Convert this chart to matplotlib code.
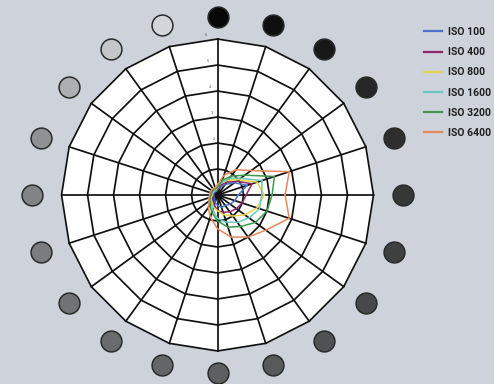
import numpy as np
import matplotlib.pyplot as plt

# 20 grey patches, one per spoke, listed counter-clockwise starting at the top
angles_deg = [90, 108, 126, 144, 162, 180, 198, 216, 234, 252,
              270, 288, 306, 324, 342, 0, 18, 36, 54, 72]
patch_grey = ['#080808', '#d3d7dd', '#c4c6c9', '#adafb2', '#8e9093',
              '#818386', '#7a7c7f', '#707275', '#6a6b6e', '#646567',
              '#5e5f60', '#58595a', '#505152', '#474849', '#3f4040',
              '#363737', '#2e2e2e', '#262626', '#181818', '#0f0f0f']

series = ['ISO 100', 'ISO 400', 'ISO 800', 'ISO 1600', 'ISO 3200', 'ISO 6400']
colors = ['#4a74c8', '#8a2a68', '#e6d24c', '#6cc8c0', '#3e9a4c', '#e8885a']

# noise per patch, same order as angles_deg
iso100 = [0.2, 0.15, 0.15, 0.15, 0.15, 0.15, 0.15, 0.15, 0.2, 0.3,
          0.4, 0.5, 0.5, 0.6, 0.7, 0.8, 1.2, 0.8, 0.5, 0.3]
iso400 = [0.25, 0.2, 0.2, 0.2, 0.2, 0.2, 0.2, 0.25, 0.3, 0.4,
          0.6, 0.7, 0.8, 0.9, 1.0, 1.1, 1.4, 0.9, 0.6, 0.4]
iso800 = [0.3, 0.2, 0.2, 0.2, 0.2, 0.2, 0.25, 0.3, 0.35, 0.5,
          0.6, 0.8, 1.0, 1.3, 1.6, 1.8, 1.6, 1.0, 0.7, 0.5]
iso1600 = [0.3, 0.25, 0.2, 0.2, 0.2, 0.25, 0.3, 0.35, 0.4, 0.6,
           0.9, 1.1, 1.3, 1.5, 1.7, 1.7, 1.8, 1.1, 0.8, 0.5]
iso3200 = [0.3, 0.25, 0.25, 0.25, 0.25, 0.25, 0.3, 0.35, 0.5, 0.7,
           1.0, 1.3, 1.5, 1.8, 2.0, 2.1, 2.3, 1.3, 0.9, 0.6]
iso6400 = [0.4, 0.3, 0.3, 0.3, 0.3, 0.3, 0.35, 0.4, 0.6, 0.9,
           1.3, 1.7, 2.0, 2.3, 2.9, 2.6, 2.9, 1.6, 1.2, 0.8]
values = [iso100, iso400, iso800, iso1600, iso3200, iso6400]

ring_levels = [1, 2, 3, 4, 5, 6]
r_outer = 6
# patches sit on a slightly wide ellipse around the web
patch_a, patch_b = 7.15, 6.85

bg = '#ced3db'
fig = plt.figure(figsize=(4.94, 3.84), dpi=100, facecolor=bg)
ax = fig.add_axes([0.0719, 0.0182, 0.7368, 0.948], polar=True)
ax.set_facecolor('none')
ax.set_ylim(0, 7)
ax.grid(False)
ax.set_xticks([])
ax.set_yticks([])
ax.spines['polar'].set_visible(False)

theta = np.deg2rad(angles_deg)
order = np.argsort(theta)
th_closed = np.append(theta[order], theta[order][0])

# white web background and polygon grid
ax.fill(th_closed, [r_outer] * len(th_closed), color='white', zorder=1)
for r in ring_levels:
    ax.plot(th_closed, [r] * len(th_closed), color='#111111', lw=1.25, zorder=2)
for t in theta:
    ax.plot([t, t], [0, r_outer], color='#111111', lw=1.25, zorder=2)
for r in ring_levels[1:]:
    ax.text(np.deg2rad(94), r + 0.15, str(r), fontsize=2.5, color='#555555',
            ha='center', va='center', zorder=3)

# noise curves
for name, vals, c in zip(series, values, colors):
    v = np.array(vals)[order]
    ax.plot(th_closed, np.append(v, v[0]), color=c, lw=1.1, label=name, zorder=4)

# grey patches around the web
r_patch = 1 / np.sqrt((np.cos(theta) / patch_a) ** 2 + (np.sin(theta) / patch_b) ** 2)
for t, rp, g in zip(theta, r_patch, patch_grey):
    ax.plot(t, rp, 'o', ms=15, mfc=g, mec='#2a2a2a', mew=1.1,
            clip_on=False, zorder=5)

leg = fig.legend(loc='upper left', bbox_to_anchor=(0.8583, 0.9297), frameon=False,
                 borderpad=0, borderaxespad=0, handlelength=1.73,
                 handletextpad=0.58, labelspacing=0.98,
                 prop={'family': ['Roboto', 'DejaVu Sans'],
                       'size': 7.5, 'weight': 'bold'},
                 labelcolor='#1e1e1e')
for line in leg.get_lines():
    line.set_linewidth(1.6)

fig.savefig('out.png', dpi=100, facecolor=bg)
